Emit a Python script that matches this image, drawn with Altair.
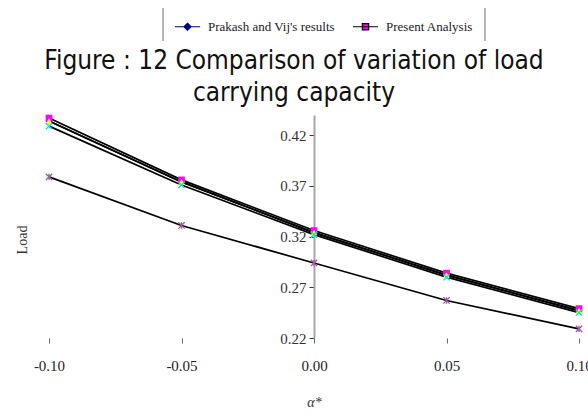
import altair as alt
import pandas as pd

alpha = [-0.10, -0.05, 0.00, 0.05, 0.10]
prakash = [0.434, 0.374, 0.324, 0.282, 0.247]
present = [0.437, 0.376, 0.326, 0.284, 0.249]
series3 = [0.434, 0.374, 0.324, 0.282, 0.247]
series4 = [0.429, 0.371, 0.322, 0.280, 0.245]
series5 = [0.379, 0.331, 0.294, 0.257, 0.229]

series_names = ["Prakash and Vij's results", "Present Analysis", "Series3", "Series4", "Series5"]
series_vals = [prakash, present, series3, series4, series5]
marker_colors = ["#000080", "#FF00FF", "#FFFF00", "#00E5EE", "#A05AA8"]
marker_shapes = ["diamond", "square", "triangle-up",
                 "M-1,-1L1,1M-1,1L1,-1",
                 "M-1,-1L1,1M-1,1L1,-1M0,-1L0,1"]
marker_filled = [True, True, True, False, False]
y_ticks = [0.22, 0.27, 0.32, 0.37, 0.42]
x_ticks = [-0.10, -0.05, 0.00, 0.05, 0.10]

rows = []
for name, vals in zip(series_names, series_vals):
    for a, v in zip(alpha, vals):
        rows.append({"alpha": a, "load": v, "series": name})
df = pd.DataFrame(rows)

W, H = 530, 223

x_enc = alt.X("alpha:Q",
              scale=alt.Scale(domain=[-0.10, 0.10], nice=False, zero=False),
              axis=alt.Axis(values=x_ticks, domain=False, grid=False, ticks=True,
                            tickSize=5, tickColor="#666666", tickWidth=1, labelFlush=False,
                            labelExpr="(datum.value < 0 ? '-' : '') + format(abs(datum.value), '.2f')",
                            labelFont="Liberation Serif", labelFontSize=15, labelColor="#222222",
                            labelPadding=15, title="α*", titleFont="Liberation Serif",
                            titleFontStyle="italic", titleFontWeight="normal", titleFontSize=14,
                            titleColor="#333333", titlePadding=22))
y_enc = alt.Y("load:Q",
              scale=alt.Scale(domain=[0.22, 0.44], nice=False, zero=False),
              axis=alt.Axis(values=y_ticks, format=".2f", offset=-265, grid=False,
                            domainColor="#A6A6A6", domainWidth=2, tickColor="#333333",
                            tickSize=5, tickWidth=1, labelFont="Liberation Serif",
                            labelFontSize=15, labelColor="#333333", labelPadding=3, title=None))

base = alt.Chart(df)

lines = base.mark_line(color="black", strokeWidth=1.7).encode(
    x=x_enc, y=y_enc, detail="series:N", order="alpha:Q")

point_layers = []
for name, col, shp, fil in zip(series_names, marker_colors, marker_shapes, marker_filled):
    if fil:
        m = base.transform_filter(alt.datum.series == name).mark_point(
            filled=True, size=45, opacity=1, color=col, shape=shp)
    else:
        m = base.transform_filter(alt.datum.series == name).mark_point(
            filled=False, size=40, strokeWidth=1.3, opacity=1, color=col, shape=shp)
    point_layers.append(m.encode(x="alpha:Q", y="load:Q"))

legend_names = series_names[:2]
leg = alt.Legend(title=None, orient="none", legendX=120, legendY=-95,
                 direction="horizontal", labelFont="Liberation Serif",
                 labelFontSize=13, labelFontWeight="normal", labelColor="#222222",
                 symbolOffset=12, labelOffset=14, columnPadding=12,
                 symbolStrokeWidth=1.2, symbolSize=49, symbolOpacity=1)
legend_layer = base.transform_filter("false").mark_point(filled=True, size=49, opacity=1).encode(
    x="alpha:Q", y="load:Q",
    fill=alt.Fill("series:N", scale=alt.Scale(domain=legend_names, range=["#000080", "#FF00FF"]),
                  legend=leg),
    stroke=alt.Stroke("series:N", scale=alt.Scale(domain=legend_names, range=["#000080", "#000000"]),
                      legend=leg),
    shape=alt.Shape("series:N", scale=alt.Scale(domain=legend_names, range=[
        "M-3.6,0H3.6M0,-1L1,0L0,1L-1,0Z", "M-3.6,0H3.6M-0.9,-0.9H0.9V0.9H-0.9Z"]),
        legend=leg))

box_df = pd.DataFrame({"side": ["left", "right"]})
box_left = alt.Chart(box_df).mark_rule(color="#B0B0B0", strokeWidth=1.5).encode(
    x=alt.value(114), y=alt.value(-107), y2=alt.value(-74))
box_right = alt.Chart(box_df).mark_rule(color="#B0B0B0", strokeWidth=1.5).encode(
    x=alt.value(436), y=alt.value(-107), y2=alt.value(-74))

load_label = alt.Chart(box_df.head(1)).mark_text(
    text="Load", angle=270, font="Liberation Serif", fontSize=14, color="#333333"
).encode(x=alt.value(-26), y=alt.value(125))

chart = alt.layer(lines, *point_layers, legend_layer, box_left, box_right, load_label).properties(
    width=W, height=H,
    autosize=alt.AutoSizeParams(type="none"),
    padding={"left": 49, "top": 115, "right": 9, "bottom": 78},
    title=alt.TitleParams(["Figure : 12 Comparison of variation of load", "carrying capacity"],
                          anchor="middle", frame="group", dx=-20, dy=107, offset=8,
                          font="'DejaVu Sans Condensed', 'DejaVu Sans', sans-serif",
                          fontSize=26, fontWeight="normal", color="#111111", lineHeight=32)
).configure_view(stroke=None)

chart.save("out.html", embed_options={"renderer": "svg", "actions": False})
